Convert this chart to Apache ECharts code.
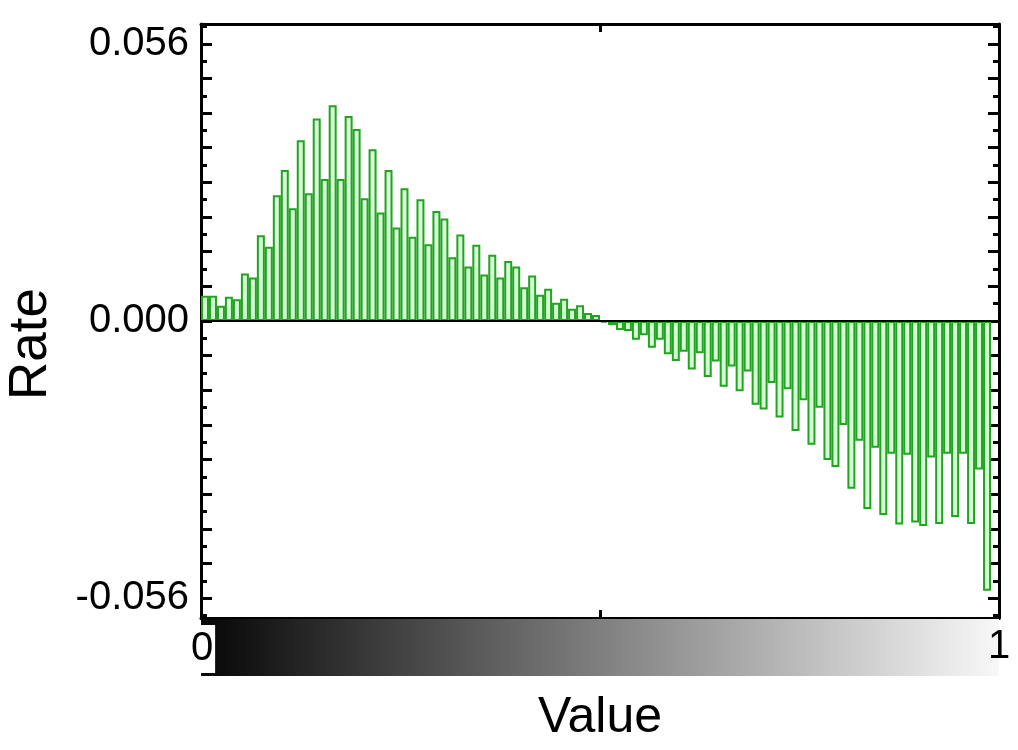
<!DOCTYPE html>
<html>
<head>
<meta charset="utf-8">
<script src="https://cdn.jsdelivr.net/npm/echarts@6/dist/echarts.min.js"></script>
<style>
html,body{margin:0;padding:0;background:#fff;}
#chart{width:1018px;height:750px;}
</style>
</head>
<body>
<div id="chart"></div>
<script>
// ---- data ----
var binCount = 100;
var categories = [];
for (var i = 0; i < binCount; i++) categories.push((i / binCount).toFixed(2));

var rates = [
  0.0051, 0.0051, 0.0031, 0.0049, 0.0044, 0.0096, 0.0088, 0.0173, 0.0150, 0.0254,
  0.0305, 0.0228, 0.0365, 0.0258, 0.0409, 0.0287, 0.0436, 0.0287, 0.0414, 0.0388,
  0.0248, 0.0347, 0.0219, 0.0305, 0.0189, 0.0268, 0.0170, 0.0246, 0.0155, 0.0222,
  0.0207, 0.0129, 0.0175, 0.0110, 0.0154, 0.0094, 0.0134, 0.0088, 0.0121, 0.0110,
  0.0068, 0.0092, 0.0053, 0.0065, 0.0037, 0.0045, 0.0025, 0.0032, 0.0016, 0.0012,
  -0.0003, -0.0008, -0.0018, -0.0020, -0.0038, -0.0029, -0.0054, -0.0038, -0.0067, -0.0081,
  -0.0062, -0.0098, -0.0065, -0.0113, -0.0082, -0.0133, -0.0092, -0.0142, -0.0102, -0.0169,
  -0.0179, -0.0125, -0.0195, -0.0138, -0.0222, -0.0160, -0.0250, -0.0175, -0.0281, -0.0295,
  -0.0210, -0.0339, -0.0242, -0.0380, -0.0256, -0.0392, -0.0268, -0.0411, -0.0270, -0.0407,
  -0.0414, -0.0276, -0.0410, -0.0268, -0.0396, -0.0268, -0.0410, -0.0300, -0.0545, null
];

var yLabelValues = [-0.056, 0, 0.056];
var yMajorTicks = [];
for (var k = -8; k <= 8; k++) yMajorTicks.push(+(k * 0.007).toFixed(4));
var yMinorTicks = [];
for (var m = -17; m <= 17; m += 2) yMinorTicks.push(+(m * 0.0035).toFixed(4));
var xTicks = [0.5];
var colorbarLabels = ['0', '1'];

var yMin = -0.06, yMax = 0.06;

// ---- chart ----
var chart = echarts.init(document.getElementById('chart'), null, {renderer: 'canvas'});
var FONT = 'Liberation Sans, Arial, sans-serif';
var black = '#000';

function yAx(pos, ticks, len, showLine, showLabels) {
  return {
    type: 'value', position: pos, min: yMin, max: yMax, gridIndex: 0,
    axisLine: {show: showLine, onZero: false, lineStyle: {color: black, width: 3}},
    axisTick: {show: true, inside: true, length: len, customValues: ticks, lineStyle: {color: black, width: 3}},
    axisLabel: showLabels ? {
      show: true, customValues: yLabelValues, margin: 12,
      color: black, fontSize: 40, fontFamily: FONT,
      formatter: function (v) { return (+v).toFixed(3); }
    } : {show: false},
    splitLine: {show: false}
  };
}

function xFrame(pos) {
  return {
    type: 'value', position: pos, min: 0, max: 1, gridIndex: 0,
    axisLine: {show: true, onZero: false, lineStyle: {color: black, width: 3}},
    axisTick: {show: true, inside: true, length: 8, customValues: xTicks, lineStyle: {color: black, width: 3}},
    axisLabel: {show: false},
    splitLine: {show: false}
  };
}

var option = {
  backgroundColor: '#fff',
  animation: false,
  grid: {left: 201, right: 19, top: 24, bottom: 132, containLabel: false},
  xAxis: [
    {
      type: 'category', data: categories, gridIndex: 0, z: 5,
      axisLine: {show: true, onZero: true, onZeroAxisIndex: 0, lineStyle: {color: black, width: 2}},
      axisTick: {show: false}, axisLabel: {show: false}, splitLine: {show: false}
    },
    xFrame('bottom'),
    xFrame('top')
  ],
  yAxis: [
    yAx('left', yMajorTicks, 11, true, true),
    yAx('left', yMinorTicks, 6, false, false),
    yAx('right', yMajorTicks, 11, true, false),
    yAx('right', yMinorTicks, 6, false, false)
  ],
  series: [{
    type: 'bar',
    xAxisIndex: 0, yAxisIndex: 0,
    data: rates,
    barWidth: '100%',
    barCategoryGap: 0,
    itemStyle: {color: '#d6fcd6', borderColor: '#22a322', borderWidth: 2}
  }],
  graphic: [
    {
      type: 'rect', left: 201, top: 619, z: 10,
      shape: {width: 798, height: 57},
      style: {
        fill: new echarts.graphic.LinearGradient(0, 0, 1, 0, [
          {offset: 0, color: '#060606'},
          {offset: 1, color: '#f8f8f8'}
        ])
      }
    },
    {
      type: 'text', x: 202, y: 649, z: 11,
      style: {text: colorbarLabels[0], font: '40px ' + FONT, fill: black,
              align: 'center', verticalAlign: 'middle', backgroundColor: '#fff', padding: [5, 2, 3, 2]}
    },
    {
      type: 'text', x: 999, y: 647, z: 11,
      style: {text: colorbarLabels[1], font: '40px ' + FONT, fill: black,
              align: 'center', verticalAlign: 'middle'}
    },
    {
      type: 'text', x: 600, y: 718, z: 11,
      style: {text: 'Value', font: '50px ' + FONT, fill: black,
              align: 'center', verticalAlign: 'middle'}
    },
    {
      type: 'text', x: 31, y: 344, rotation: Math.PI / 2, z: 11,
      style: {text: 'Rate', font: '53px ' + FONT, fill: black,
              align: 'center', verticalAlign: 'middle'}
    }
  ]
};
chart.setOption(option);
</script>
</body>
</html>
